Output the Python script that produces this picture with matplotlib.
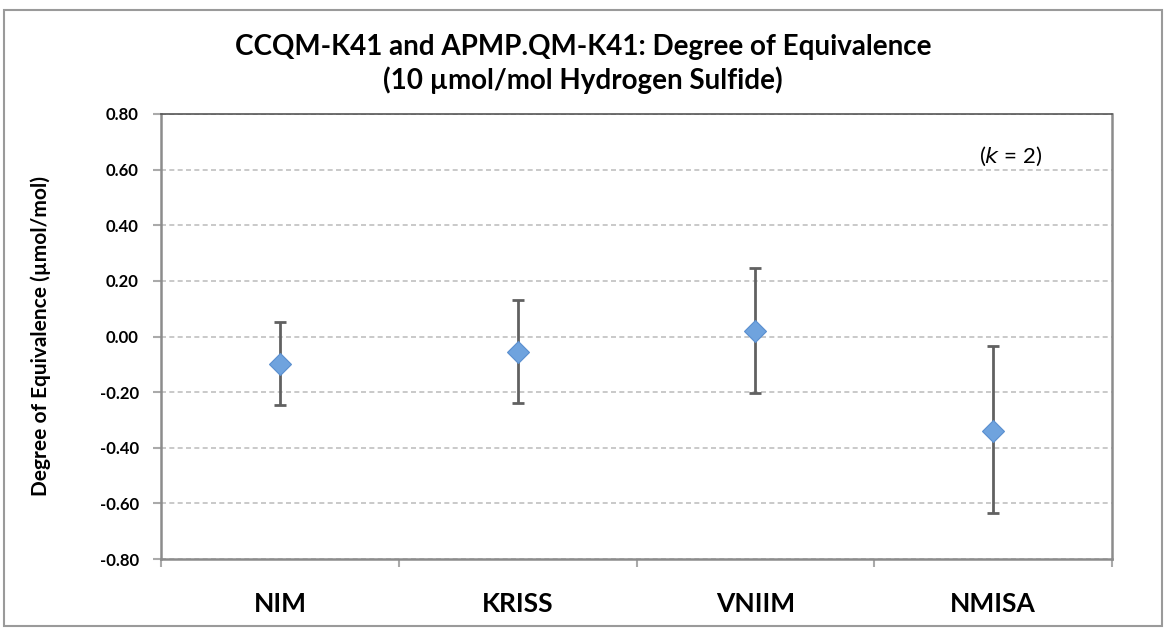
import numpy as np
import matplotlib
matplotlib.use('Agg')
from matplotlib import pyplot as plt
from matplotlib.patches import Rectangle

# values
labs = ['NIM', 'KRISS', 'VNIIM', 'NMISA']
doe = [-0.10, -0.057, 0.018, -0.338]
upper = [0.053, 0.132, 0.245, -0.034]
lower = [-0.248, -0.238, -0.204, -0.635]
yticks = [-0.80, -0.60, -0.40, -0.20, 0.00, 0.20, 0.40, 0.60, 0.80]

plt.rcParams['font.family'] = ['Lato', 'DejaVu Sans']

W, H = 1166, 631
fig = plt.figure(figsize=(W / 100, H / 100), dpi=100)
ax = fig.add_axes([161 / W, 1 - 559 / H, (1112 - 161) / W, (559 - 114) / H])

# outer frame of the chart area
fig.patches.append(Rectangle((4 / W, 1 - 626 / H), 1158 / W, 616 / H,
                             transform=fig.transFigure, fill=False,
                             edgecolor='#9a9a9a', linewidth=1.5))

x = np.arange(len(labs))
err = [np.array(doe) - np.array(lower), np.array(upper) - np.array(doe)]
ax.errorbar(x, doe, yerr=err, fmt='none', ecolor='#616161', elinewidth=2,
            capsize=4.5, capthick=2, zorder=3)
ax.plot(x, doe, 'D', color='#6fa3de', markersize=11, markeredgecolor='#5a8fcf',
        markeredgewidth=0.8, zorder=4)

ax.set_xlim(-0.5, len(labs) - 0.5)
ax.set_ylim(-0.8, 0.8)
ax.set_yticks(yticks)
ax.set_yticklabels(['%.2f' % v for v in yticks], fontsize=12, fontweight='bold')
ax.set_xticks(x)
ax.set_xticklabels(labs, fontsize=19, fontweight='bold')
ax.tick_params(axis='x', length=0, pad=24)
ax.set_xticks(np.arange(len(labs) + 1) - 0.5, minor=True)
ax.tick_params(axis='x', which='minor', length=6, color='#aaaaaa', width=1.5)
ax.tick_params(axis='y', length=6, color='#aaaaaa', width=1.5, pad=10)

ax.yaxis.grid(True, linestyle=(0, (3, 2)), color='#c0c0c0', linewidth=1.2)
ax.set_axisbelow(True)
for s in ['left', 'bottom', 'right']:
    ax.spines[s].set_color('#8c8c8c')
    ax.spines[s].set_linewidth(1.8)
ax.spines['top'].set_linestyle((0, (3, 1)))
ax.spines['top'].set_color('#555555')
ax.spines['top'].set_linewidth(1.2)

ax.set_ylabel('Degree of Equivalence (\u00b5mol/mol)', fontsize=15,
              fontweight='bold')
ax.yaxis.set_label_coords(-0.116, 0.5)
fig.text(0.5, 1 - 47 / H, 'CCQM-K41 and APMP.QM-K41: Degree of Equivalence',
         ha='center', va='center', fontsize=20, fontweight='bold')
fig.text(0.5, 1 - 80 / H, '(10 \u00b5mol/mol Hydrogen Sulfide)',
         ha='center', va='center', fontsize=20, fontweight='bold')

ax.text(0.893, 0.905, '($\\mathit{k}$ = 2)', transform=ax.transAxes,
        ha='center', va='center', fontsize=16)

fig.savefig('out.png', dpi=100)
